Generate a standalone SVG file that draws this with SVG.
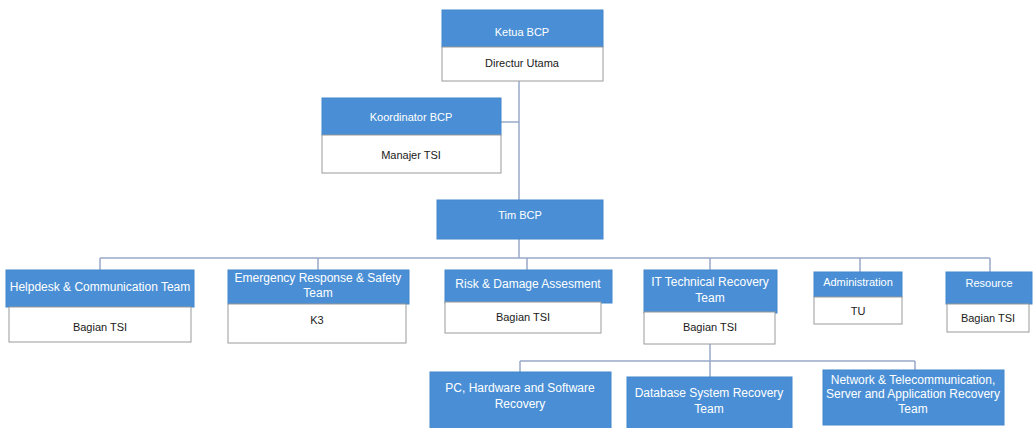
<svg xmlns="http://www.w3.org/2000/svg" width="1035" height="428" viewBox="0 0 1035 428">
  <style>
    .hd { fill: #4a8fd5; stroke: #4285cc; stroke-width: 1; }
    .bd { fill: #ffffff; stroke: #9a9a9a; stroke-width: 1; }
    .ht { fill: #ffffff; font-family: "Liberation Sans", Arial, sans-serif; font-size: 11px; text-anchor: middle; }
    .ht2 { font-size: 12px; }
    .bt { fill: #1a1a1a; font-family: "Liberation Sans", Arial, sans-serif; font-size: 11px; text-anchor: middle; }
    .ln { fill: none; stroke: #98a8c8; stroke-width: 1.5; }
  </style>
  <rect width="1035" height="428" fill="#ffffff"/>

  <!-- connectors -->
  <g id="connectors" class="ln">
    <path d="M519,81 V258"/>
    <path d="M501,122 H519"/>
    <path d="M100,258 H990"/>
    <path d="M100,258 V270"/>
    <path d="M318,258 V270"/>
    <path d="M527,258 V270"/>
    <path d="M710,258 V270"/>
    <path d="M860,258 V272"/>
    <path d="M990,258 V272"/>
    <path d="M710,344 V377"/>
    <path d="M520,361 H915"/>
    <path d="M520,361 V372"/>
    <path d="M915,361 V370"/>
  </g>

  <!-- top level -->
  <g id="ketua">
    <rect class="hd" x="442" y="10" width="161" height="37"/>
    <rect class="bd" x="442" y="47" width="161" height="34"/>
    <text class="ht" x="522" y="36">Ketua BCP</text>
    <text class="bt" x="522" y="67">Directur Utama</text>
  </g>

  <g id="koordinator">
    <rect class="hd" x="322" y="98" width="179" height="37"/>
    <rect class="bd" x="322" y="135" width="179" height="38"/>
    <text class="ht" x="411" y="121">Koordinator BCP</text>
    <text class="bt" x="411" y="159">Manajer TSI</text>
  </g>

  <g id="tim">
    <rect class="hd" x="437" y="200" width="166" height="39"/>
    <text class="ht" x="520" y="219">Tim BCP</text>
  </g>

  <!-- team level -->
  <g id="helpdesk">
    <rect class="hd" x="6" y="270" width="188" height="37"/>
    <rect class="bd" x="9" y="307" width="182" height="35"/>
    <text class="ht ht2" x="100" y="291">Helpdesk &amp; Communication Team</text>
    <text class="bt" x="100" y="331">Bagian TSI</text>
  </g>

  <g id="emergency">
    <rect class="hd" x="228" y="270" width="181" height="34"/>
    <rect class="bd" x="228" y="304" width="178" height="39"/>
    <text class="ht ht2" x="318" y="282">Emergency Response &amp; Safety</text>
    <text class="ht ht2" x="318" y="297">Team</text>
    <text class="bt" x="317" y="324">K3</text>
  </g>

  <g id="risk">
    <rect class="hd" x="445" y="270" width="167" height="33"/>
    <rect class="bd" x="445" y="302" width="156" height="31"/>
    <text class="ht ht2" x="528" y="288">Risk &amp; Damage Assesment</text>
    <text class="bt" x="523" y="321">Bagian TSI</text>
  </g>

  <g id="it-technical">
    <rect class="hd" x="644" y="270" width="133" height="43"/>
    <rect class="bd" x="644" y="312" width="131" height="32"/>
    <text class="ht ht2" x="710" y="286">IT Technical Recovery</text>
    <text class="ht ht2" x="710" y="302">Team</text>
    <text class="bt" x="710" y="331">Bagian TSI</text>
  </g>

  <g id="administration">
    <rect class="hd" x="814" y="272" width="88" height="25"/>
    <rect class="bd" x="814" y="297" width="88" height="27"/>
    <text class="ht" x="858" y="286">Administration</text>
    <text class="bt" x="858" y="315">TU</text>
  </g>

  <g id="resource">
    <rect class="hd" x="946" y="272" width="86" height="32"/>
    <rect class="bd" x="947" y="304" width="82" height="28"/>
    <text class="ht" x="989" y="287">Resource</text>
    <text class="bt" x="988" y="322">Bagian TSI</text>
  </g>

  <!-- recovery sub-teams -->
  <g id="pc-hardware">
    <rect class="hd" x="430" y="372" width="181" height="60"/>
    <text class="ht ht2" x="520" y="392">PC, Hardware and Software</text>
    <text class="ht ht2" x="520" y="408">Recovery</text>
  </g>

  <g id="database">
    <rect class="hd" x="627" y="377" width="165" height="55"/>
    <text class="ht ht2" x="709" y="397">Database System Recovery</text>
    <text class="ht ht2" x="709" y="413">Team</text>
  </g>

  <g id="network">
    <rect class="hd" x="823" y="370" width="181" height="55"/>
    <text class="ht ht2" x="913" y="384">Network &amp; Telecommunication,</text>
    <text class="ht ht2" x="913" y="398">Server and Application Recovery</text>
    <text class="ht ht2" x="913" y="413">Team</text>
  </g>
</svg>
